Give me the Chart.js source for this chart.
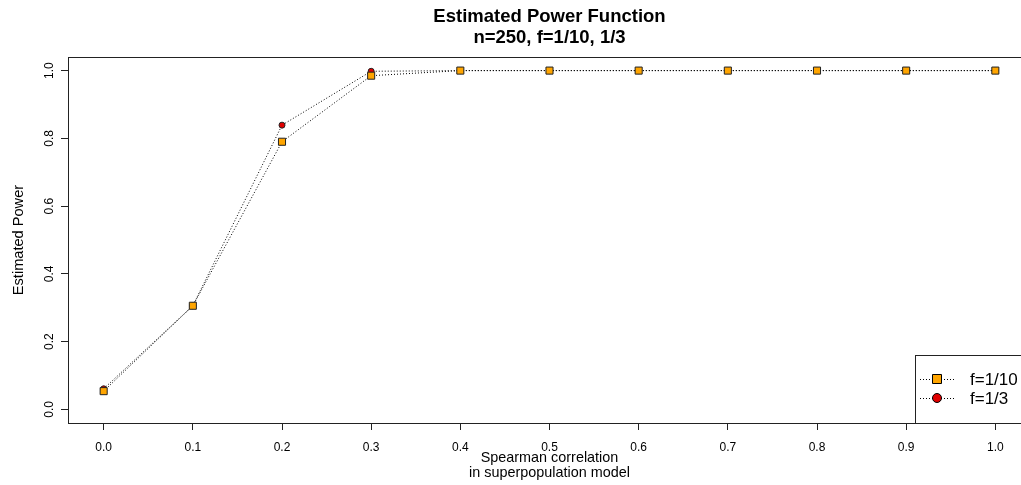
<!DOCTYPE html>
<html>
<head>
<meta charset="utf-8">
<script src="https://cdn.jsdelivr.net/npm/chart.js@4/dist/chart.umd.min.js"></script>
<style>
  html, body { margin: 0; padding: 0; background: #fff; overflow: hidden; }
  #wrap { width: 1050px; height: 485px; }
</style>
</head>
<body>
<div id="wrap"><canvas id="power" width="1050" height="485"></canvas></div>
<script>
// values
var correlation = [0.0, 0.1, 0.2, 0.3, 0.4, 0.5, 0.6, 0.7, 0.8, 0.9, 1.0];
var powerF10 = [0.054, 0.306, 0.790, 0.985, 1.0, 1.0, 1.0, 1.0, 1.0, 1.0, 1.0];
var powerF3 = [0.061, 0.306, 0.839, 0.998, 1.0, 1.0, 1.0, 1.0, 1.0, 1.0, 1.0];
var xTicks = [0.0, 0.1, 0.2, 0.3, 0.4, 0.5, 0.6, 0.7, 0.8, 0.9, 1.0];
var yTicks = [0.0, 0.2, 0.4, 0.6, 0.8, 1.0];
var seriesLabels = ["f=1/10", "f=1/3"];

var FONT = "'Liberation Sans', Arial, sans-serif";

function toPoints(ys) {
    return correlation.map(function(x, i) { return { x: x, y: ys[i] }; });
}

// box round the plot region, like R's box()
var frame = {
    id: 'frame',
    afterDatasetsDraw: function(chart) {
        var a = chart.chartArea, ctx = chart.ctx;
        ctx.save();
        ctx.strokeStyle = '#222';
        ctx.lineWidth = 1;
        ctx.strokeRect(Math.round(a.left) + 0.5, Math.round(a.top) + 0.5,
            Math.round(a.right - a.left), Math.round(a.bottom - a.top));
        ctx.restore();
    }
};

// legend in the bottom right corner with a border
var boxLegend = {
    id: 'boxLegend',
    afterDraw: function(chart) {
        var a = chart.chartArea, ctx = chart.ctx;
        var w = 116, h = 68;
        var left = Math.round(a.right - w), top = Math.round(a.bottom - h);
        ctx.save();
        ctx.fillStyle = '#fff';
        ctx.fillRect(left, top, w, h);
        ctx.strokeStyle = '#222';
        ctx.lineWidth = 1;
        ctx.strokeRect(left + 0.5, top + 0.5, w, h);
        chart.data.datasets.forEach(function(ds, i) {
            var y = top + 24 + i * 19;
            ctx.setLineDash([1, 2]);
            ctx.strokeStyle = '#000';
            ctx.beginPath();
            ctx.moveTo(left + 5, y + 0.5);
            ctx.lineTo(left + 39, y + 0.5);
            ctx.stroke();
            ctx.setLineDash([]);
            var px = left + 22;
            ctx.fillStyle = ds.pointBackgroundColor;
            ctx.strokeStyle = '#000';
            ctx.beginPath();
            if (ds.pointStyle === 'rect') {
                ctx.rect(px - 4.5, y - 4.5, 9, 9);
            } else {
                ctx.arc(px, y, 4.5, 0, Math.PI * 2);
            }
            ctx.fill();
            ctx.stroke();
            ctx.fillStyle = '#000';
            ctx.font = '17px ' + FONT;
            ctx.textBaseline = 'middle';
            ctx.textAlign = 'left';
            ctx.fillText(ds.label, left + 55, y + 1);
        });
        ctx.restore();
    }
};

new Chart(document.getElementById('power'), {
    type: 'line',
    data: {
        datasets: [{
            label: seriesLabels[0],
            data: toPoints(powerF10),
            borderColor: '#000',
            borderWidth: 1,
            borderDash: [1, 2],
            pointStyle: 'rect',
            pointRadius: 5,
            pointBackgroundColor: '#FFA500',
            pointBorderColor: '#222',
            pointBorderWidth: 1
        }, {
            label: seriesLabels[1],
            data: toPoints(powerF3),
            borderColor: '#000',
            borderWidth: 1,
            borderDash: [1, 2],
            pointStyle: 'circle',
            pointRadius: 3,
            pointBackgroundColor: '#E00000',
            pointBorderColor: '#222',
            pointBorderWidth: 1
        }]
    },
    options: {
        responsive: false,
        animation: false,
        layout: { padding: { left: 0, right: 19, top: 0, bottom: 0 } },
        plugins: {
            legend: { display: false },
            tooltip: { enabled: false },
            title: {
                display: true,
                fullSize: false,
                text: ['Estimated Power Function', 'n=250, f=1/10, 1/3'],
                color: '#000',
                font: { family: FONT, size: 18.5, weight: 'bold', lineHeight: 1.12 },
                padding: { top: 7, bottom: 8.6 }
            }
        },
        scales: {
            x: {
                type: 'linear',
                min: -0.04,
                max: 1.04,
                afterFit: function(s) { s.height = 62; },
                afterBuildTicks: function(s) { s.ticks = xTicks.map(function(v) { return { value: v }; }); },
                grid: { drawOnChartArea: false, tickLength: 7, color: '#222' },
                border: { display: false },
                ticks: {
                    padding: 10,
                    color: '#000',
                    maxRotation: 0,
                    font: { family: FONT, size: 12 },
                    callback: function(v) { return v.toFixed(1); }
                },
                title: {
                    display: true,
                    text: ['Spearman correlation', 'in superpopulation model'],
                    color: '#000',
                    font: { family: FONT, size: 14.4, lineHeight: 1.07 },
                    padding: { top: 0, bottom: 4 }
                }
            },
            y: {
                min: -0.04,
                max: 1.04,
                afterFit: function(s) { s.width = 68; },
                afterBuildTicks: function(s) { s.ticks = yTicks.map(function(v) { return { value: v }; }); },
                grid: { drawOnChartArea: false, tickLength: 7, color: '#222' },
                border: { display: false },
                ticks: {
                    padding: 3,
                    color: '#000',
                    minRotation: 90,
                    maxRotation: 90,
                    crossAlign: 'center',
                    font: { family: FONT, size: 12 },
                    callback: function(v) { return v.toFixed(1); }
                },
                title: {
                    display: true,
                    text: 'Estimated Power',
                    color: '#000',
                    font: { family: FONT, size: 14.6, lineHeight: 1.15 },
                    padding: { top: 11, bottom: 0 }
                }
            }
        }
    },
    plugins: [frame, boxLegend]
});
</script>
</body>
</html>
